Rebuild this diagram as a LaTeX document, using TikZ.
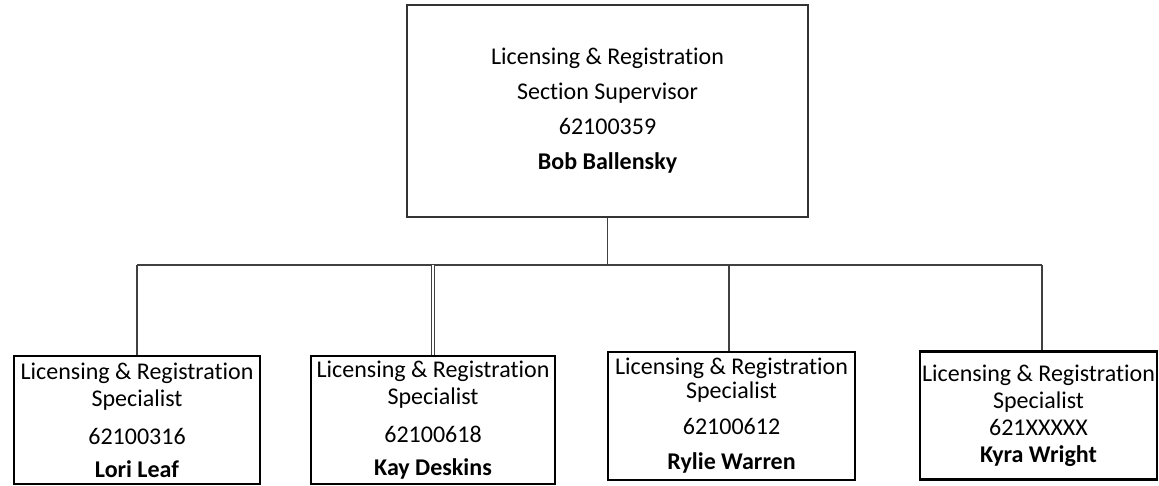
\documentclass[tikz,border=0pt]{standalone}
\usepackage{fontspec}
\setmainfont{Carlito}[Ligatures=NoCommon]
\begin{document}
\begin{tikzpicture}[x=1pt,y=-1pt,
    post/.style={draw=black,line width=2.5pt,inner sep=0pt,align=center,minimum height=128pt,font=\fontsize{24}{27}\selectfont},
    link/.style={draw=black!75,line width=1.2pt}]
    \useasboundingbox (0,0) rectangle (1159,485);
    \node[draw=black!80,line width=1.5pt,inner sep=0pt,minimum width=401pt,minimum height=212pt,align=center,font=\fontsize{24}{35}\selectfont] (sup) at (607.5,111) {Licensing \& Registration\\Section Supervisor\\62100359\\\textbf{Bob Ballensky}};
    \node[post,minimum width=246pt] (lrs1) at (137,420) {Licensing \& Registration\\Specialist\\[11pt]62100316\\[6pt]\textbf{Lori Leaf}};
    \node[post,minimum width=244pt] (lrs2) at (433,420) {Licensing \& Registration\\Specialist\\[11pt]62100618\\[6pt]\textbf{Kay Deskins}};
    \node[post,minimum width=247pt,font=\fontsize{24}{24}\selectfont] (lrs3) at (731.5,416) {Licensing \& Registration\\Specialist\\[12pt]62100612\\[11pt]\textbf{Rylie Warren}};
    \node[post,minimum width=237pt] (lrs4) at (1038.5,415.5) {Licensing \& Registration\\Specialist\\621XXXXX\\\textbf{Kyra Wright}};
    \coordinate (bus) at (0,265);
    \draw[link] (sup.south)--(sup.south |- bus);
    \draw[link] (lrs1.north |- bus)--([xshift=3.5pt]lrs4.north |- bus);
    \draw[link] (lrs1.north)--(lrs1.north |- bus);
    \draw[link,line width=0.8pt,double,double distance=1.5pt] (lrs2.north)--(lrs2.north |- bus);
    \draw[link] ([xshift=-2.5pt]lrs3.north)--([xshift=-2.5pt]lrs3.north |- bus);
    \draw[link] ([xshift=3.5pt]lrs4.north)--([xshift=3.5pt]lrs4.north |- bus);
\end{tikzpicture}
\end{document}
